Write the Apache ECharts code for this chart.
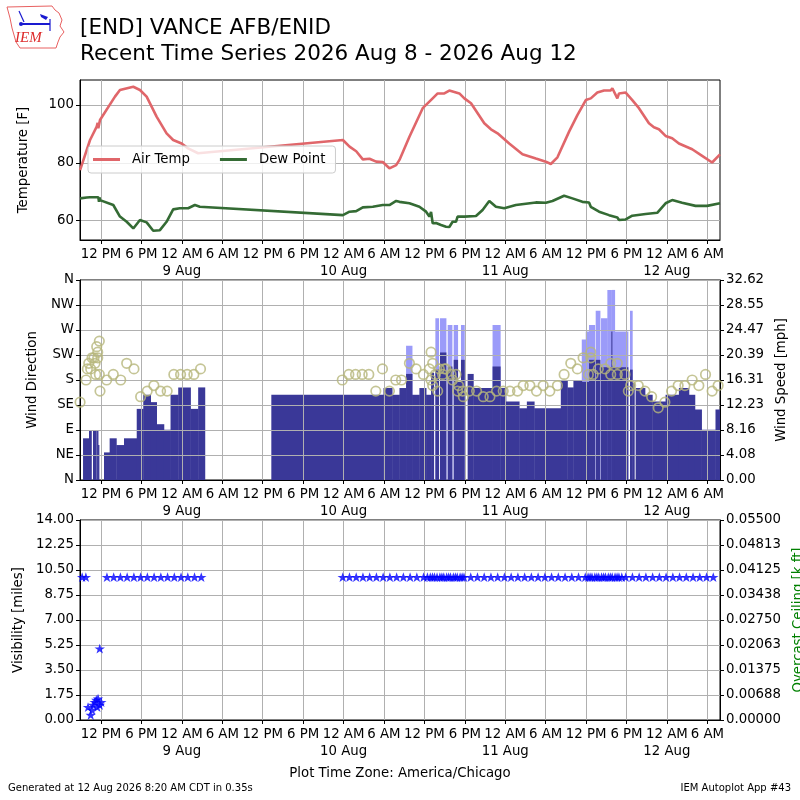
<!DOCTYPE html>
<html>
<head>
<meta charset="utf-8">
<title>[END] VANCE AFB/ENID</title>
<script src="https://cdn.jsdelivr.net/npm/echarts@6/dist/echarts.min.js"></script>
<style>
  html, body { margin: 0; padding: 0; background: #fff; }
  #main { width: 800px; height: 800px; }
</style>
</head>
<body>
<div id="main"></div>
<script>
// hours are counted from 2026 Aug 8 00:00 CDT
var xTickHours = [12, 18, 24, 30, 36, 42, 48, 54, 60, 66, 72, 78, 84, 90, 96, 102];
var xTickLabels = ['12 PM', '6 PM', '12 AM\n9 Aug', '6 AM', '12 PM', '6 PM', '12 AM\n10 Aug', '6 AM',
                   '12 PM', '6 PM', '12 AM\n11 Aug', '6 AM', '12 PM', '6 PM', '12 AM\n12 Aug', '6 AM'];
var tempTicks = [60, 80, 100];
var dirTickLabels = ['N', 'NE', 'E', 'SE', 'S', 'SW', 'W', 'NW', 'N'];
var speedTickLabels = ['0.00', '4.08', '8.16', '12.23', '16.31', '20.39', '24.47', '28.55', '32.62'];
var visTickLabels = ['0.00', '1.75', '3.50', '5.25', '7.00', '8.75', '10.50', '12.25', '14.00'];
var ceilTickLabels = ['0.00000', '0.00688', '0.01375', '0.02063', '0.02750', '0.03438', '0.04125', '0.04813', '0.05500'];

// [hour, F]
var airTemp = [
  [8.89, 77.5], [10.37, 87.9], [11.36, 92.5], [11.5, 93.8], [11.6, 92.0], [11.85, 94.8], [14.07, 102.9], [14.81, 105.2],
  [16.79, 106.3], [17.78, 105.2], [18.77, 102.9], [20.25, 96.0], [21.73, 90.2], [22.71, 87.9], [23.96, 86.7],
  [24.93, 85.0], [26.41, 83.3],
  [47.9, 87.9], [48.89, 85.6], [49.88, 84.0], [50.86, 81.2], [51.85, 81.4], [52.84, 80.4], [53.82, 80.3],
  [54.81, 78.1], [55.81, 79.2], [56.3, 81.0], [57.78, 89.0], [59.75, 98.9], [61.23, 102.3], [61.97, 104.0],
  [62.96, 104.0], [63.7, 105.0], [65.19, 104.0], [65.93, 102.3], [66.92, 100.6], [68.89, 93.7], [69.88, 91.6],
  [70.86, 90.2], [72.59, 86.7], [74.56, 83.0], [76.55, 81.5], [78.03, 80.4], [78.77, 79.6], [79.75, 81.9],
  [81.48, 90.8], [82.71, 96.5], [83.96, 101.7], [84.7, 102.3], [85.67, 104.3], [86.67, 105.0], [87.66, 105.0],
  [87.9, 105.8], [88.64, 102.3], [88.89, 104.0], [89.88, 104.3], [90.86, 101.7], [91.85, 98.9], [93.33, 93.7],
  [94.07, 92.3], [94.81, 91.6], [95.8, 89.3], [96.78, 88.5], [97.78, 86.7], [99.75, 84.7], [101.23, 82.4],
  [102.71, 80.1], [103.88, 82.9]
];
var dewPoint = [
  [8.89, 67.7], [9.88, 68.0], [10.37, 68.1], [11.6, 68.1], [11.7, 66.5], [11.8, 68.0], [11.85, 67.1], [13.82, 65.4],
  [14.81, 61.4], [15.81, 59.6], [16.79, 57.3], [17.78, 60.2], [18.77, 59.4], [19.75, 56.5], [20.74, 56.7],
  [21.73, 59.6], [22.71, 63.9], [23.7, 64.3], [24.93, 64.3], [25.93, 65.4], [26.67, 64.8],
  [47.9, 61.9], [48.89, 63.1], [49.88, 63.3], [50.86, 64.6], [52.34, 64.8], [53.82, 65.4], [54.81, 65.4],
  [55.81, 66.8], [56.3, 66.5], [57.78, 66.0], [59.26, 64.8], [60.25, 63.1], [60.74, 61.4], [60.99, 63.0],
  [61.23, 59.1], [61.73, 59.2], [62.47, 58.5], [63.21, 57.9], [63.7, 57.8], [64.19, 59.6], [64.69, 59.6],
  [64.93, 61.4], [65.93, 61.4], [67.66, 61.6], [68.64, 63.7], [69.63, 66.8], [70.62, 64.8], [71.85, 64.3],
  [73.58, 65.4], [76.55, 66.3], [78.03, 66.2], [79.01, 66.8], [80.74, 68.6], [81.97, 67.7], [83.45, 66.5],
  [84.44, 66.3], [84.7, 64.8], [85.93, 63.1], [87.41, 61.9], [88.64, 61.1], [88.89, 60.2], [89.88, 60.4],
  [90.86, 61.7], [92.84, 62.3], [94.56, 62.7], [95.8, 66.0], [96.78, 67.1], [98.26, 66.2], [100.25, 65.1],
  [101.97, 65.1], [103.88, 66.0]
];

// wind bars: interval i runs from windEdges[i] to windEdges[i + 1]
var windEdges = [9.33, 10.22, 10.57, 10.81, 11.31, 11.41, 11.56, 11.70, 12.44, 13.28, 14.27, 15.41, 17.30, 18.27,
  19.36, 20.25, 21.33, 22.32, 23.46, 25.28, 26.42, 27.41, 37.28, 53.93, 55.21, 56.30, 57.28, 58.17, 59.26, 60.25,
  60.99, 61.38, 61.63, 62.12, 62.32, 63.21, 63.46, 64.10, 64.35, 64.94, 65.43, 65.93, 66.42, 67.26, 70.12, 71.26,
  72.10, 74.07, 75.21, 76.30, 80.25, 81.23, 82.12, 83.36, 83.95, 84.44, 85.29, 85.43, 86.07, 86.22, 87.16, 87.75,
  87.85, 88.25, 90.22, 90.52, 90.86, 91.16, 91.36, 92.74, 93.83, 95.80, 97.78, 99.26, 100.15, 101.14, 103.21, 103.88];
var windSpeed = [6.8, 8.0, null, 8.0, null, 8.0, 5.7, null, 4.5, 6.8, 5.7, 6.8, 11.6, 13.9,
  12.7, 9.1, 8.2, 13.9, 15.1, 11.6, 15.1, null, 13.9, 15.0, 13.9, 15.0, 17.3, 13.9, 15.0,
  13.9, 17.5, null, 18.0, null, 20.8, null, 18.5, null, 19.6, 16.0, 19.6, null, 17.3, 15.0, 18.5,
  15.0, 12.8, 11.7, 12.8, 11.7, 16.2, 15.1, 16.2, 16.0, 16.0, 19.6, null, 19.6, null, 18.4, 18.4,
  24.2, 18.4, 18.4, null, 18.0, 15.8, null, 15.0, 13.9, 12.8, 13.9, 15.0, 13.9, 11.5, 8.2, 11.5];
var windGust = [null, null, null, null, null, null, null, null, null, null, null, null, null, null,
  null, null, null, null, null, null, null, null, null, null, null, null, 21.9, null, null,
  null, null, null, 26.4, null, 26.4, null, 25.3, null, 25.3, null, 25.3, null, null, null, 25.3,
  null, null, null, null, null, null, null, null, 22.9, 24.2, 25.3, null, 27.6, null, 26.4, 31.0,
  31.0, 31.0, 24.2, null, 27.6, null, null, null, null, null, null, null, null, null, null, null];

// [hour, degrees]
var windDir = [
  [8.89, 140], [9.78, 180], [9.97, 200], [10.18, 210], [10.47, 200], [10.67, 220], [10.96, 220], [11.11, 210],
  [11.21, 190], [11.36, 240], [11.51, 230], [11.51, 220], [11.75, 250], [11.75, 190], [11.85, 160], [12.84, 180],
  [13.82, 190], [14.92, 180], [15.81, 210], [16.89, 200], [17.88, 150], [18.86, 160], [19.85, 170], [20.84, 160],
  [21.82, 160], [22.81, 190], [23.81, 190], [24.79, 190], [25.78, 190], [26.77, 200],
  [47.81, 180], [48.79, 190], [49.78, 190], [50.77, 190], [51.75, 190], [52.79, 160], [53.78, 200], [54.81, 160],
  [55.75, 180], [56.6, 180], [57.78, 210], [58.77, 200], [59.85, 190], [60.74, 200], [60.99, 230], [61.23, 210],
  [60.99, 180], [61.23, 170], [61.63, 190], [61.97, 160], [62.22, 200], [62.71, 190], [62.96, 200], [63.21, 200],
  [63.96, 190], [64.19, 180], [64.69, 190], [65.08, 170], [64.93, 160], [65.78, 150], [65.67, 160], [66.67, 160],
  [67.75, 160], [68.74, 150], [69.73, 150], [70.71, 160], [71.7, 160], [72.7, 160], [73.82, 160], [74.67, 170],
  [75.66, 170], [76.64, 160], [77.63, 170], [78.62, 160], [79.75, 170], [80.74, 190], [81.73, 210], [82.71, 200],
  [83.56, 220], [84.34, 190], [84.7, 230], [84.7, 220], [85.04, 190], [85.82, 200], [86.81, 200], [87.66, 210],
  [87.66, 190], [88.64, 210], [88.64, 190], [89.78, 190], [90.27, 160], [90.62, 170], [91.75, 170], [92.74, 160],
  [93.73, 150], [94.71, 130], [95.7, 140], [96.69, 160], [97.67, 170], [98.67, 170], [99.75, 180], [100.74, 170],
  [101.73, 190], [102.71, 160], [103.6, 170]
];

// [hour, miles]
var visObs = [
  [9.2, 10], [9.75, 10], [10.07, 0.9], [10.47, 0.35], [10.67, 0.7], [10.81, 1.05], [11.07, 1.25], [11.3, 1.4],
  [11.45, 0.9], [11.56, 1.5], [11.81, 1.05], [11.81, 5.0], [12.04, 1.25],
  [12.88, 10], [13.88, 10], [14.88, 10], [15.88, 10], [16.88, 10], [17.88, 10], [18.88, 10], [19.88, 10],
  [20.88, 10], [21.88, 10], [22.88, 10], [23.88, 10], [24.88, 10], [25.88, 10], [26.88, 10],
  [47.88, 10], [48.88, 10], [49.88, 10], [50.88, 10], [51.88, 10], [52.88, 10], [53.88, 10], [54.88, 10],
  [55.88, 10], [56.88, 10], [57.88, 10], [58.88, 10], [59.88, 10], [60.45, 10], [60.88, 10], [61.2, 10],
  [61.5, 10], [61.88, 10], [62.3, 10], [62.6, 10], [62.88, 10], [63.3, 10], [63.6, 10], [63.88, 10],
  [64.3, 10], [64.6, 10], [64.88, 10], [65.3, 10], [65.6, 10], [65.88, 10], [66.88, 10], [67.88, 10],
  [68.88, 10], [69.88, 10], [70.88, 10], [71.88, 10], [72.88, 10], [73.88, 10], [74.88, 10], [75.88, 10],
  [76.88, 10], [77.88, 10], [78.88, 10], [79.88, 10], [80.88, 10], [81.88, 10], [82.88, 10], [83.88, 10],
  [84.3, 10], [84.6, 10], [84.88, 10], [85.3, 10], [85.6, 10], [85.88, 10], [86.3, 10], [86.6, 10],
  [86.88, 10], [87.3, 10], [87.6, 10], [87.88, 10], [88.3, 10], [88.6, 10], [88.88, 10], [89.3, 10],
  [89.88, 10], [90.88, 10], [91.88, 10], [92.88, 10], [93.88, 10], [94.88, 10], [95.88, 10], [96.88, 10],
  [97.88, 10], [98.88, 10], [99.88, 10], [100.88, 10], [101.88, 10], [102.88, 10]
];

var FONT = 'DejaVu Sans';
var FS = 13.3;

function barRows(values) {
  var rows = [];
  for (var i = 0; i < values.length; i++) {
    if (values[i] != null) rows.push([windEdges[i], windEdges[i + 1], values[i]]);
  }
  return rows;
}

function renderBar(params, api) {
  var p0 = api.coord([api.value(0), api.value(2)]);
  var p1 = api.coord([api.value(1), 0]);
  var cs = params.coordSys;
  var r = echarts.graphic.clipRectByRect(
    { x: p0[0], y: p0[1], width: p1[0] - p0[0] + 0.4, height: p1[1] - p0[1] },
    { x: cs.x, y: cs.y, width: cs.width, height: cs.height });
  return r && { type: 'rect', shape: r, style: { fill: api.visual('color') } };
}

function xAxisFor(g) {
  return {
    type: 'value', gridIndex: g, min: 8.88, max: 103.88, z: 3,
    axisLine: { show: true, onZero: false, lineStyle: { color: '#000', width: 1 } },
    axisTick: { show: true, customValues: xTickHours, length: 4, lineStyle: { color: '#000' } },
    axisLabel: {
      customValues: xTickHours, color: '#000', fontFamily: FONT, fontSize: FS, margin: 6, lineHeight: 17,
      formatter: function (v) { return xTickLabels[xTickHours.indexOf(Math.round(v))]; }
    },
    splitLine: { show: true, lineStyle: { color: '#b0b0b0', width: 1 } }
  };
}

function yAxisFor(g, pos, extra) {
  var a = {
    type: 'value', gridIndex: g, position: pos, z: 3,
    axisLine: { show: true, onZero: false, lineStyle: { color: '#000', width: 1 } },
    axisTick: { show: true, length: 4, lineStyle: { color: '#000' } },
    axisLabel: { color: '#000', fontFamily: FONT, fontSize: FS, margin: 6 },
    splitLine: { show: pos === 'left', lineStyle: { color: '#b0b0b0', width: 1 } },
    nameLocation: 'middle', nameRotate: 90, nameMoveOverlap: false,
    nameTextStyle: { color: '#000', fontFamily: FONT, fontSize: FS }
  };
  for (var k in extra) {
    if (typeof extra[k] === 'object' && a[k]) Object.assign(a[k], extra[k]);
    else a[k] = extra[k];
  }
  return a;
}

var myChart = echarts.init(document.getElementById('main'));

var option = {
  backgroundColor: '#fff',
  animation: false,
  grid: [
    { left: 80, right: 80, top: 80, height: 160, show: true, borderColor: '#000', borderWidth: 1, outerBoundsMode: 'none', containLabel: false },
    { left: 80, right: 80, top: 280, height: 200, show: true, borderColor: '#000', borderWidth: 1, outerBoundsMode: 'none', containLabel: false },
    { left: 80, right: 80, top: 520, height: 200, show: true, borderColor: '#000', borderWidth: 1, outerBoundsMode: 'none', containLabel: false }
  ],
  xAxis: [xAxisFor(0), xAxisFor(1), xAxisFor(2)],
  yAxis: [
    yAxisFor(0, 'left', {
      min: 53.3, max: 108.65, name: 'Temperature [F]', nameGap: 50,
      axisTick: { customValues: tempTicks }, axisLabel: { customValues: tempTicks }
    }),
    yAxisFor(1, 'left', {
      min: 0, max: 360, interval: 45, name: 'Wind Direction', nameGap: 41,
      axisLabel: { formatter: function (v) { return dirTickLabels[Math.round(v / 45)]; } }
    }),
    yAxisFor(1, 'right', {
      min: 0, max: 32.62, interval: 32.62 / 8, name: 'Wind Speed [mph]', nameGap: 55,
      axisLabel: { formatter: function (v) { return speedTickLabels[Math.round(v / (32.62 / 8))]; } }
    }),
    yAxisFor(2, 'left', {
      min: 0, max: 14, interval: 1.75, name: 'Visibility [miles]', nameGap: 55,
      axisLabel: { formatter: function (v) { return visTickLabels[Math.round(v / 1.75)]; } }
    }),
    yAxisFor(2, 'right', {
      min: 0, max: 0.055, interval: 0.006875, name: 'Overcast Ceiling [k ft]', nameGap: 72,
      nameTextStyle: { color: '#008000' },
      axisLabel: { formatter: function (v) { return ceilTickLabels[Math.round(v / 0.006875)]; } }
    })
  ],
  legend: {
    data: ['Air Temp', 'Dew Point'], left: 88, top: 146, icon: 'rect', itemWidth: 27, itemHeight: 3,
    itemGap: 30, padding: [7, 10, 7, 5], backgroundColor: 'rgba(255,255,255,0.8)',
    borderColor: '#cccccc', borderWidth: 1, borderRadius: 3, z: 10,
    textStyle: { color: '#000', fontFamily: FONT, fontSize: FS, padding: [0, 0, 0, 7] }
  },
  series: [
    {
      name: 'Air Temp', type: 'line', xAxisIndex: 0, yAxisIndex: 0, data: airTemp, showSymbol: false,
      color: '#e0666a', lineStyle: { width: 2.6, color: '#e0666a' }, z: 4
    },
    {
      name: 'Dew Point', type: 'line', xAxisIndex: 0, yAxisIndex: 0, data: dewPoint, showSymbol: false,
      color: '#346b34', lineStyle: { width: 2.6, color: '#346b34' }, z: 4
    },
    {
      name: 'Gust', type: 'custom', xAxisIndex: 1, yAxisIndex: 2, data: barRows(windGust),
      encode: { x: [0, 1], y: 2 }, renderItem: renderBar, itemStyle: { color: '#9b9bf9' }, z: 2
    },
    {
      name: 'Speed', type: 'custom', xAxisIndex: 1, yAxisIndex: 2, data: barRows(windSpeed),
      encode: { x: [0, 1], y: 2 }, renderItem: renderBar, itemStyle: { color: '#3a3898' }, z: 2
    },
    {
      name: 'Direction', type: 'scatter', xAxisIndex: 1, yAxisIndex: 1, data: windDir, symbol: 'circle',
      symbolSize: 9.5, itemStyle: { color: 'rgba(0,0,0,0)', borderColor: '#b7b77c', borderWidth: 1.7 }, z: 5
    },
    {
      name: 'Visibility', type: 'scatter', xAxisIndex: 2, yAxisIndex: 3, data: visObs,
      symbol: 'path://M50,0 L61.8,35.1 L98.9,35.1 L68.9,56.8 L80.3,91.9 L50,70.2 L19.7,91.9 L31.1,56.8 L1.1,35.1 L38.2,35.1 Z',
      symbolKeepAspect: true, symbolSize: 10.5, itemStyle: { color: '#0000ff' }, z: 5
    }
  ],
  graphic: [
    {
      type: 'polygon', z: 10,
      shape: { points: [[7, 7], [52, 6], [55, 10], [59, 13], [62, 20], [60, 26], [64, 32], [60, 37], [58, 42], [56, 48], [20, 48], [16, 42], [14, 35], [12, 28], [10, 18]] },
      style: { fill: 'none', stroke: '#e86060', lineWidth: 1 }
    },
    { type: 'line', z: 10, shape: { x1: 22, y1: 24, x2: 50, y2: 24 }, style: { stroke: '#1a1ad0', lineWidth: 2 } },
    { type: 'line', z: 10, shape: { x1: 19, y1: 11, x2: 24, y2: 22 }, style: { stroke: '#1a1ad0', lineWidth: 1.2 } },
    { type: 'circle', z: 10, shape: { cx: 21, cy: 24, r: 2 }, style: { fill: '#1a1ad0' } },
    { type: 'polygon', z: 10, shape: { points: [[40, 14], [48, 17], [46, 20], [41, 17]] }, style: { fill: '#1a1ad0' } },
    { type: 'line', z: 10, shape: { x1: 50, y1: 19, x2: 50, y2: 31 }, style: { stroke: '#1a1ad0', lineWidth: 1.2 } },
    {
      type: 'text', z: 10, x: 15, y: 31,
      style: { text: 'IEM', font: 'italic 15px "Liberation Serif"', fill: '#dd2a2a' }
    },
    {
      type: 'text', x: 80, y: 17,
      style: { text: '[END] VANCE AFB/ENID', font: '21.5px "DejaVu Sans"', fill: '#000' }
    },
    {
      type: 'text', x: 80, y: 43,
      style: { text: 'Recent Time Series 2026 Aug 8 - 2026 Aug 12', font: '21.5px "DejaVu Sans"', fill: '#000' }
    },
    {
      type: 'text', x: 400, y: 767,
      style: { text: 'Plot Time Zone: America/Chicago', font: '13.3px "DejaVu Sans"', fill: '#000', textAlign: 'center', align: 'center' }
    },
    {
      type: 'text', x: 8, y: 783,
      style: { text: 'Generated at 12 Aug 2026 8:20 AM CDT in 0.35s', font: '10px "DejaVu Sans"', fill: '#000' }
    },
    {
      type: 'text', x: 791, y: 783,
      style: { text: 'IEM Autoplot App #43', font: '10px "DejaVu Sans"', fill: '#000', textAlign: 'right', align: 'right' }
    }
  ]
};

myChart.setOption(option);
</script>
</body>
</html>
